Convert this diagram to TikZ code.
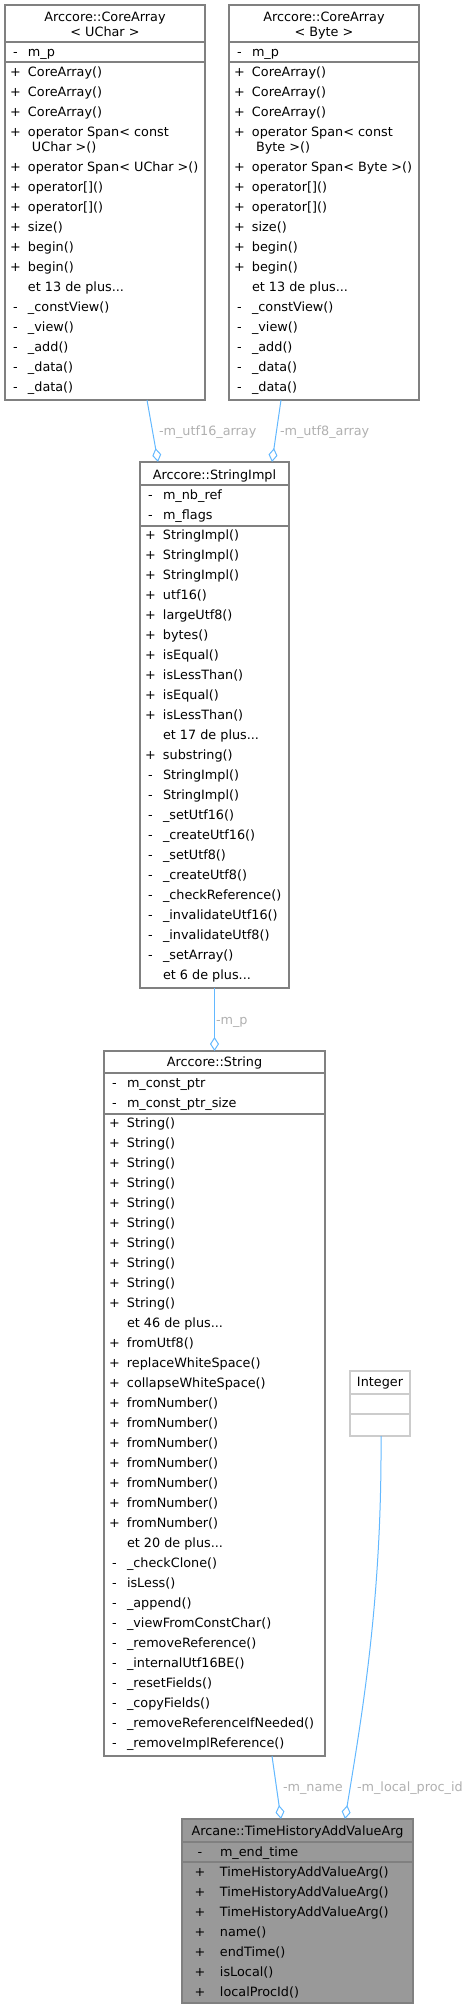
\documentclass[tikz,border=0pt]{standalone}
\usepackage{fontspec}
\setmainfont{DejaVu Sans}
\usetikzlibrary{arrows.meta}
\definecolor{edgeblue}{HTML}{63B8FF}
\definecolor{boxgray}{HTML}{808080}
\definecolor{lblgray}{HTML}{B0B0B0}
\definecolor{lightbd}{HTML}{CCCCCC}
\definecolor{hlfill}{HTML}{999999}
\newcommand\classrows[3]{%
  \foreach \y/\s/\t [count=\i] in {#3} {%
    \node[mem] (#1r\i) at (#2,\y+4.2) {\makebox[21pt]{\s}\hspace{2pt}\t};}}
\begin{document}
\begin{tikzpicture}[x=1pt,y=-1pt,
  every node/.style={font=\fontsize{12.8}{15}\selectfont, inner sep=0pt, outer sep=0pt},
  classbox/.style={draw=boxgray, line width=1.1pt, fill=white, anchor=north west, inner sep=0pt},
  sepline/.style={draw=boxgray, line width=1.1pt},
  mem/.style={anchor=base west},
  title/.style={anchor=base},
  edge/.style={draw=edgeblue, line width=1pt, -{Diamond[open,length=14pt,width=9pt]}},
  elabel/.style={anchor=base west, text=lblgray}]
\useasboundingbox (0,0) rectangle (472,2009);

% ---- CoreArray<UChar>
\node[classbox, minimum width=200pt, minimum height=395pt] (ca1) at (5,5) {};
\draw[sepline] (ca1.west |- 0,42) -- (ca1.east |- 0,42);
\draw[sepline] (ca1.west |- 0,62) -- (ca1.east |- 0,62);
\node[title] (ca1t1) at (105,17+4.2) {Arccore::CoreArray};
\node[title] (ca1t2) at (105,32+4.2) {< UChar >};
\classrows{ca1}{5}{52/-/{m\_p},72/+/{CoreArray()},92/+/{CoreArray()},112/+/{CoreArray()},132/+/{operator Span< const},147/{}/{\hspace{4pt}UChar >()},167/+/{operator Span< UChar >()},187/+/{operator[]()},207/+/{operator[]()},227/+/{size()},247/+/{begin()},267/+/{begin()},287/{}/{et 13 de plus...},307/-/{\_constView()},327/-/{\_view()},347/-/{\_add()},367/-/{\_data()},387/-/{\_data()}}

% ---- CoreArray<Byte>
\node[classbox, minimum width=190pt, minimum height=395pt] (ca2) at (229,5) {};
\draw[sepline] (ca2.west |- 0,42) -- (ca2.east |- 0,42);
\draw[sepline] (ca2.west |- 0,62) -- (ca2.east |- 0,62);
\node[title] (ca2t1) at (324,17+4.2) {Arccore::CoreArray};
\node[title] (ca2t2) at (324,32+4.2) {< Byte >};
\classrows{ca2}{229}{52/-/{m\_p},72/+/{CoreArray()},92/+/{CoreArray()},112/+/{CoreArray()},132/+/{operator Span< const},147/{}/{\hspace{4pt}Byte >()},167/+/{operator Span< Byte >()},187/+/{operator[]()},207/+/{operator[]()},227/+/{size()},247/+/{begin()},267/+/{begin()},287/{}/{et 13 de plus...},307/-/{\_constView()},327/-/{\_view()},347/-/{\_add()},367/-/{\_data()},387/-/{\_data()}}

% ---- StringImpl
\node[classbox, minimum width=149pt, minimum height=526pt] (si) at (140,462) {};
\draw[sepline] (si.west |- 0,485) -- (si.east |- 0,485);
\draw[sepline] (si.west |- 0,526) -- (si.east |- 0,526);
\node[title] (sit) at (214.5,475+4.2) {Arccore::StringImpl};
\classrows{si}{140}{495/-/{m\_nb\_ref},515/-/{m\_flags},535/+/{StringImpl()},555/+/{StringImpl()},575/+/{StringImpl()},595/+/{utf16()},615/+/{largeUtf8()},635/+/{bytes()},655/+/{isEqual()},675/+/{isLessThan()},695/+/{isEqual()},715/+/{isLessThan()},735/{}/{et 17 de plus...},755/+/{substring()},775/-/{StringImpl()},795/-/{StringImpl()},815/-/{\_setUtf16()},835/-/{\_createUtf16()},855/-/{\_setUtf8()},875/-/{\_createUtf8()},895/-/{\_checkReference()},915/-/{\_invalidateUtf16()},935/-/{\_invalidateUtf8()},955/-/{\_setArray()},975/{}/{et 6 de plus...}}

% ---- String
\node[classbox, minimum width=221pt, minimum height=705pt] (str) at (104,1051) {};
\draw[sepline] (str.west |- 0,1073) -- (str.east |- 0,1073);
\draw[sepline] (str.west |- 0,1114) -- (str.east |- 0,1114);
\node[title] (strt) at (214.5,1062+4.2) {Arccore::String};
\classrows{str}{104}{1083/-/{m\_const\_ptr},1103/-/{m\_const\_ptr\_size},1123/+/{String()},1143/+/{String()},1163/+/{String()},1183/+/{String()},1203/+/{String()},1223/+/{String()},1243/+/{String()},1263/+/{String()},1283/+/{String()},1303/+/{String()},1323/{}/{et 46 de plus...},1343/+/{fromUtf8()},1363/+/{replaceWhiteSpace()},1383/+/{collapseWhiteSpace()},1403/+/{fromNumber()},1423/+/{fromNumber()},1443/+/{fromNumber()},1463/+/{fromNumber()},1483/+/{fromNumber()},1503/+/{fromNumber()},1523/+/{fromNumber()},1543/{}/{et 20 de plus...},1563/-/{\_checkClone()},1583/-/{isLess()},1603/-/{\_append()},1623/-/{\_viewFromConstChar()},1643/-/{\_removeReference()},1663/-/{\_internalUtf16BE()},1683/-/{\_resetFields()},1703/-/{\_copyFields()},1723/-/{\_removeReferenceIfNeeded()},1743/-/{\_removeImplReference()}}

% ---- Integer
\node[classbox, draw=lightbd, minimum width=60pt, minimum height=65pt] (int) at (350,1371) {};
\draw[sepline, draw=lightbd] (int.west |- 0,1394) -- (int.east |- 0,1394);
\draw[sepline, draw=lightbd] (int.west |- 0,1414) -- (int.east |- 0,1414);
\node[title] (intt) at (380,1382+4.2) {Integer};

% ---- TimeHistoryAddValueArg
\node[classbox, fill=hlfill, minimum width=231pt, minimum height=184pt] (th) at (182,1819) {};
\draw[sepline] (th.west |- 0,1842) -- (th.east |- 0,1842);
\draw[sepline] (th.west |- 0,1862) -- (th.east |- 0,1862);
\node[title] (tht) at (297.5,1831+4.2) {Arcane::TimeHistoryAddValueArg};
\foreach \y/\s/\t [count=\i] in {1852/-/{m\_end\_time},1872/+/{TimeHistoryAddValueArg()},1892/+/{TimeHistoryAddValueArg()},1912/+/{TimeHistoryAddValueArg()},1932/+/{name()},1952/+/{endTime()},1972/+/{isLocal()},1992/+/{localProcId()}} {
  \node[mem] (thr\i) at (190,\y+4.2) {\makebox[20pt]{\s}\hspace{10pt}\t};}

% ---- connectors
\draw[edge] ([xshift=42pt]ca1.south) -- ([xshift=-56.5pt]si.north);
\draw[edge] ([xshift=-43pt]ca2.south) -- ([xshift=57.5pt]si.north);
\draw[edge] (si.south) -- (str.north);
\draw[edge] ([xshift=57.5pt]str.south) -- ([xshift=-16.5pt]th.north);
\draw[edge] ([xshift=1pt]int.south) .. controls (382,1600) and (362,1715) .. ([xshift=47.5pt]th.north);

\node[elabel] (l1) at (159,431+4.2) {-m\_utf16\_array};
\node[elabel] (l2) at (280,431+4.2) {-m\_utf8\_array};
\node[elabel] (l3) at (216,1020+4.2) {-m\_p};
\node[elabel] (l4) at (283,1787+4.2) {-m\_name};
\node[elabel] (l5) at (357,1787+4.2) {-m\_local\_proc\_id};
\end{tikzpicture}
\end{document}
